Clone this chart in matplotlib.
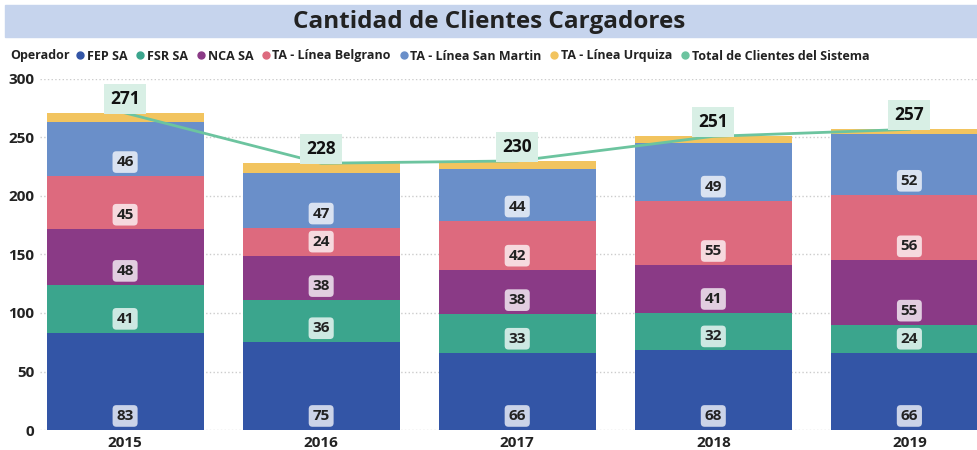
import numpy as np
import matplotlib.pyplot as plt
from matplotlib.lines import Line2D
from matplotlib.patches import Rectangle

plt.rcParams['font.family'] = ['Open Sans', 'DejaVu Sans']

years = ['2015', '2016', '2017', '2018', '2019']
fep = [83, 75, 66, 68, 66]
fsr = [41, 36, 33, 32, 24]
nca = [48, 38, 38, 41, 55]
belgrano = [45, 24, 42, 55, 56]
san_martin = [46, 47, 44, 49, 52]
urquiza = [8, 8, 7, 6, 4]
total = [271, 228, 230, 251, 257]

series = [
    ('FEP SA', fep, '#3355a6', True),
    ('FSR SA', fsr, '#3ba58d', True),
    ('NCA SA', nca, '#8a3a86', True),
    ('TA - Línea Belgrano', belgrano, '#dd6a7e', True),
    ('TA - Línea San Martin', san_martin, '#6a8fc9', True),
    ('TA - Línea Urquiza', urquiza, '#f2c45f', False),
]
line_color = '#6cc49f'

fig = plt.figure(figsize=(9.78, 4.5), dpi=100)

# title band
fig.patches.append(Rectangle((5 / 978, 1 - 37 / 450), 1, 32 / 450,
                             transform=fig.transFigure, color='#c6d4ed', zorder=0))
fig.text(0.5, 1 - 22 / 450, 'Cantidad de Clientes Cargadores', ha='center', va='center',
         fontsize=17.5, fontweight='bold', color='#222222')

ax = fig.add_axes([40 / 978, 20 / 450, 938 / 978, 351 / 450])
x = np.arange(len(years))
bottom = np.zeros(len(years))
for name, vals, col, show in series:
    vals = np.array(vals)
    ax.bar(x, vals, 0.8, bottom=bottom, color=col, zorder=2)
    if show:
        for xi, b, v in zip(x, bottom, vals):
            ax.text(xi, b + 12, str(v), ha='center', va='center', fontsize=11,
                    fontweight='bold', color='#222222', zorder=4,
                    bbox=dict(boxstyle='round,pad=0.25', fc='white', ec='none', alpha=0.75))
    bottom += vals

ax.plot(x, total, color=line_color, lw=2, zorder=3)
for xi, t in zip(x, total):
    ax.text(xi, t + 12, str(t), ha='center', va='center', fontsize=12.5,
            fontweight='bold', color='#111111', zorder=4,
            bbox=dict(boxstyle='square,pad=0.35', fc='#d8efe5', ec='none'))

ax.set_ylim(0, 300)
ax.set_xlim(-0.434, 4.35)
ax.set_yticks(range(0, 301, 50))
ax.set_xticks(x)
ax.set_xticklabels(years)
ax.tick_params(length=0, labelsize=11, pad=4)
for lab in ax.get_xticklabels() + ax.get_yticklabels():
    lab.set_fontweight('bold')
    lab.set_color('#222222')
ax.grid(axis='y', linestyle=':', color='#cccccc', lw=1, zorder=0)
for s in ax.spines.values():
    s.set_visible(False)

# legend row
fig.text(10 / 978, 1 - 56 / 450, 'Operador', ha='left', va='center', fontsize=9,
         fontweight='bold', color='#222222')
handles = [Line2D([], [], marker='o', ls='none', color=c, markersize=5) for _, _, c, _ in series]
handles.append(Line2D([], [], marker='o', ls='none', color=line_color, markersize=5))
labels = [n for n, _, _, _ in series] + ['Total de Clientes del Sistema']
leg = fig.legend(handles, labels, loc='center left', bbox_to_anchor=(74 / 978, 1 - 56 / 450),
                 ncol=7, frameon=False, handletextpad=0.05, columnspacing=0.5,
                 handlelength=1.0, borderaxespad=0, borderpad=0,
                 prop={'size': 9, 'weight': 'bold'})
for t in leg.get_texts():
    t.set_color('#222222')

fig.savefig('out.png', dpi=100)
